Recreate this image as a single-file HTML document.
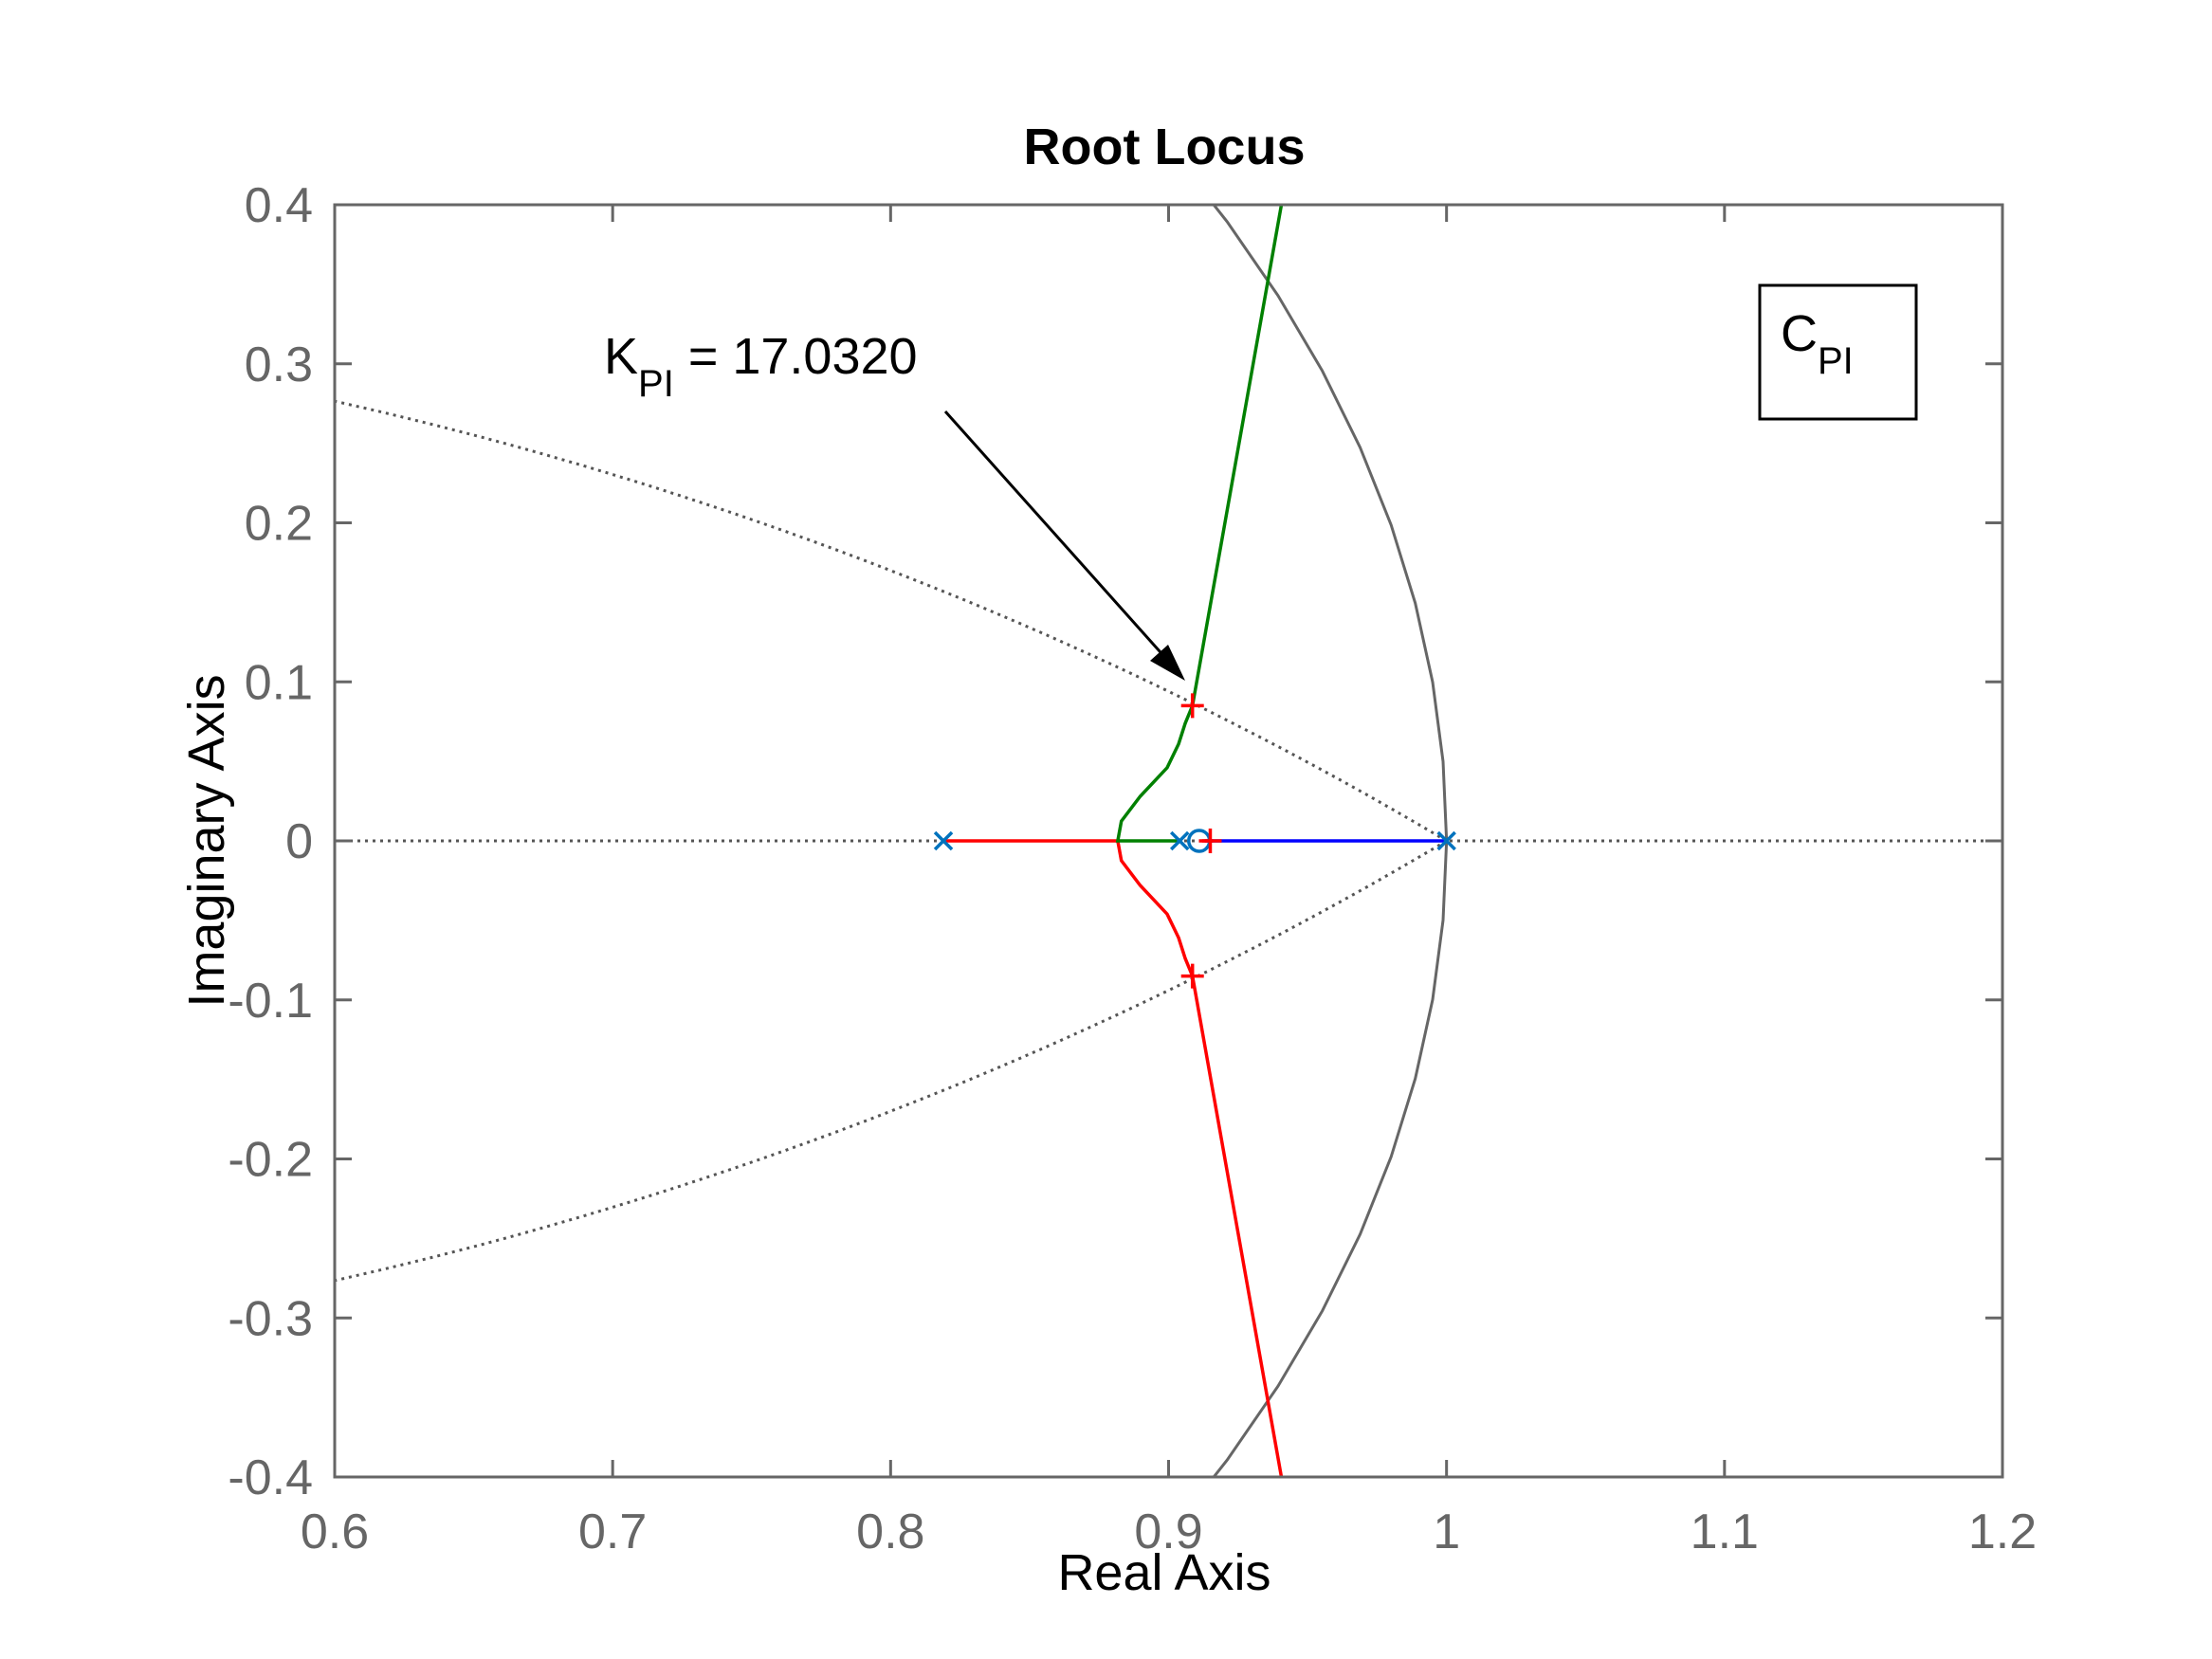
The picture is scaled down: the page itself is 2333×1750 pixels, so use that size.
<!DOCTYPE html>
<html><head><meta charset="utf-8"><style>
html,body{margin:0;padding:0;background:#fff;}
svg{display:block;font-family:"Liberation Sans",sans-serif;}
</style></head><body>
<svg id="chart" width="2333" height="1750" viewBox="0 0 2333 1750" xmlns="http://www.w3.org/2000/svg">
<rect width="2333" height="1750" fill="#fff"/>
<g id="plot"></g>
<text x="1228" y="173" text-anchor="middle" font-size="54" font-weight="bold" fill="#000">Root Locus</text>
<text x="1228" y="1677" text-anchor="middle" font-size="54" fill="#000">Real Axis</text>
<text transform="translate(236,887) rotate(-90)" text-anchor="middle" font-size="54" fill="#000">Imaginary Axis</text>
<text x="637" y="394" font-size="54" fill="#000">K<tspan font-size="40" dy="24">PI</tspan><tspan dy="-24"> = 17.0320</tspan></text>
<g>
<rect x="1856" y="301" width="165" height="141" fill="#fff" stroke="#000" stroke-width="3"/>
<text x="1878" y="370" font-size="54" fill="#000">C<tspan font-size="40" dy="24">PI</tspan></text>
</g>
</svg>
<script>
const xTicks=[0.6,0.7,0.8,0.9,1,1.1,1.2];
const xTickLabels=["0.6","0.7","0.8","0.9","1","1.1","1.2"];
const yTicks=[0.4,0.3,0.2,0.1,0,-0.1,-0.2,-0.3,-0.4];
const yTickLabels=["0.4","0.3","0.2","0.1","0","-0.1","-0.2","-0.3","-0.4"];
const redBranchX=[0.819,0.8817,0.883,0.8898,0.8995,0.9036,0.906,0.9086,0.9406];
const redBranchY=[0,0,-0.0124,-0.028,-0.046,-0.061,-0.074,-0.085,-0.4];
const greenBranchX=[0.904,0.8817,0.883,0.8898,0.8995,0.9036,0.906,0.9086,0.9406];
const greenBranchY=[0,0,0.0124,0.028,0.046,0.061,0.074,0.085,0.4];
const blueBranchX=[0.913,1.0];
const blueBranchY=[0,0];
const redStubX=[0.912,0.916];
const redStubY=[0,0];
const polesX=[0.819,0.904,1.0];
const zerosX=[0.911];
const gainMarkX=[0.9086,0.9086,0.915];
const gainMarkY=[0.085,-0.085,0];
const dampingK=[0.96];

const L=353,R=2112,T=216,B=1558;
const sx=v=>L+(v-0.6)/0.6*(R-L);
const sy=v=>T+(0.4-v)/0.8*(B-T);
const NS="http://www.w3.org/2000/svg";
const g=document.getElementById('plot');
function mk(tag,attrs,parent){const e=document.createElementNS(NS,tag);for(const k in attrs)e.setAttribute(k,attrs[k]);(parent||g).appendChild(e);return e;}
const defs=document.createElementNS(NS,'defs');
defs.innerHTML='<clipPath id="cp"><rect x="'+L+'" y="'+T+'" width="'+(R-L)+'" height="'+(B-T)+'"/></clipPath>';
g.appendChild(defs);
const cg=document.createElementNS(NS,'g');cg.setAttribute('clip-path','url(#cp)');g.appendChild(cg);
function polyC(xs,ys,color,w,dash,name){
  const pts=xs.map((x,i)=>sx(x).toFixed(1)+','+sy(ys[i]).toFixed(1)).join(' ');
  const e=mk('polyline',{points:pts,fill:'none',stroke:color,'stroke-width':w},cg);
  if(dash)e.setAttribute('stroke-dasharray',dash);
  
  
  return e;
}
const cx=[],cy=[];
for(let a=-0.5;a<=0.5001;a+=0.05){cx.push(Math.cos(a));cy.push(Math.sin(a));}
polyC(cx,cy,'#666',3,null,'unit-circle');
const k=dampingK[0];
const dxU=[],dyU=[],dyL=[];
for(let th=0;th<=0.6;th+=0.01){const r=Math.exp(-k*th);dxU.push(r*Math.cos(th));dyU.push(r*Math.sin(th));dyL.push(-r*Math.sin(th));}
polyC(dxU,dyU,'#555',3,'3,5','damping-line-upper');
polyC(dxU,dyL,'#555',3,'3,5','damping-line-lower');
polyC([0.6,1.2],[0,0],'#555',3,'3,5','real-axis-grid');
polyC(redBranchX,redBranchY,'#ff0000',3.5,null,'locus-branch-red');
polyC(greenBranchX,greenBranchY,'#008000',3.5,null,'locus-branch-green');
polyC(blueBranchX,blueBranchY,'#0000ff',3.5,null,'locus-branch-blue');
polyC(redStubX,redStubY,'#ff0000',3.5,null,'locus-stub-red');
polesX.forEach(p=>{const X=sx(p),Y=sy(0);
  const e=mk('path',{d:`M${X-9},${Y-9}L${X+9},${Y+9}M${X-9},${Y+9}L${X+9},${Y-9}`,stroke:'#0072bd','stroke-width':3.5,fill:'none'});
  
  });
zerosX.forEach(z=>{const e=mk('circle',{cx:sx(z),cy:sy(0),r:11,fill:'none',stroke:'#0072bd','stroke-width':3.5});
  
  });
gainMarkX.forEach((x,i)=>{const X=sx(x),Y=sy(gainMarkY[i]);
  const e=mk('path',{d:`M${X-12},${Y}L${X+12},${Y}M${X},${Y-13}L${X},${Y+13}`,stroke:'#ff0000','stroke-width':3.5,fill:'none'});
  
  });
const ax=mk('rect',{x:L,y:T,width:R-L,height:B-T,fill:'none',stroke:'#666','stroke-width':3});


xTicks.forEach((v,i)=>{const X=sx(v);
  mk('path',{d:`M${X},${B}L${X},${B-18}M${X},${T}L${X},${T+18}`,stroke:'#666','stroke-width':3});
  const t=mk('text',{x:X,y:1633,'text-anchor':'middle','font-size':52,fill:'#666'});t.textContent=xTickLabels[i];
  
  });
yTicks.forEach((v,i)=>{const Y=sy(v);
  mk('path',{d:`M${L},${Y}L${L+18},${Y}M${R},${Y}L${R-18},${Y}`,stroke:'#666','stroke-width':3});
  const t=mk('text',{x:330,y:Y+18,'text-anchor':'end','font-size':52,fill:'#666'});t.textContent=yTickLabels[i];
  
  });
const ar=mk('path',{d:'M997,434L1240,706',stroke:'#000','stroke-width':3,fill:'none'});


const ah=mk('path',{d:'M1250,718L1213,697L1232,680Z',fill:'#000'});


</script>
</body></html>
